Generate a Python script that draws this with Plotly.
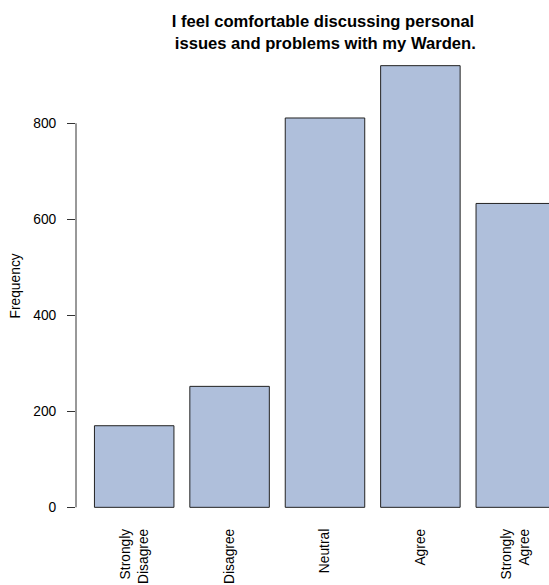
import plotly.graph_objects as go

# Data
categories = ["Strongly Disagree", "Disagree", "Neutral", "Agree", "Strongly Agree"]
tick_labels = ["Strongly<br>Disagree", "Disagree", "Neutral", "Agree", "Strongly<br>Agree"]
frequencies = [170, 252, 811, 920, 633]
y_ticks = [0, 200, 400, 600, 800]

# R barplot style positions: width 1, space 0.2
bar_width = 1.0
space = 0.2
x_centers = [space * (i + 1) + bar_width * i + bar_width / 2 for i in range(len(categories))]

W, H = 549, 585
left, right, top, bottom = 76, 0, 48, 585 - 525
plot_w = W - left - right
px_per_unit = 79.5
x_lo = -0.032
x_hi = x_lo + plot_w / px_per_unit

ymax = max(frequencies)
y_lo, y_hi = -0.04 * ymax, 1.04 * ymax

fig = go.Figure(
    go.Bar(
        x=x_centers,
        y=frequencies,
        width=bar_width,
        marker=dict(color="#AFBFDB", line=dict(color="#222222", width=1)),
        hoverinfo="y",
    )
)

font_family = "Liberation Sans, Arial, Helvetica, sans-serif"
fs = 13.8

fig.update_layout(
    width=W,
    height=H,
    margin=dict(l=left, r=right, t=top, b=bottom),
    plot_bgcolor="white",
    paper_bgcolor="white",
    showlegend=False,
    font=dict(family=font_family, size=fs, color="black"),
    title=dict(
        text="I feel comfortable discussing personal<br>\u00a0issues and problems with my Warden.",
        font=dict(family=font_family, size=16.6, color="black", weight="bold"),
        xref="container",
        x=323 / W,
        xanchor="center",
        yref="container",
        y=1 - 27 / H,
        yanchor="top",
    ),
    xaxis=dict(
        range=[x_lo, x_hi],
        tickmode="array",
        tickvals=x_centers,
        ticktext=tick_labels,
        tickangle=-90,
        showgrid=False,
        zeroline=False,
        showline=False,
        ticks="",
        tickfont=dict(size=fs, color="black"),
        fixedrange=True,
    ),
    yaxis=dict(
        range=[y_lo, y_hi],
        tickmode="array",
        tickvals=y_ticks,
        ticks="outside",
        ticklen=8,
        tickcolor="#333333",
        tickwidth=1,
        showgrid=False,
        zeroline=False,
        showline=False,
        tickfont=dict(size=fs, color="black"),
        ticklabelstandoff=8,
        fixedrange=True,
    ),
    annotations=[
        dict(
            text="Frequency",
            xref="paper",
            yref="paper",
            x=(15 - left) / plot_w,
            y=0.5,
            textangle=-90,
            showarrow=False,
            font=dict(size=fs, color="black"),
            xanchor="center",
            yanchor="middle",
        )
    ],
    shapes=[
        dict(
            type="line",
            xref="paper",
            yref="y",
            x0=0,
            x1=0,
            y0=y_ticks[0],
            y1=y_ticks[-1],
            line=dict(color="#333333", width=1),
        )
    ],
)

fig.write_html(
    "out.html",
    config={"displayModeBar": False},
    post_script="document.body.style.margin='0';document.body.style.overflow='hidden';",
)
